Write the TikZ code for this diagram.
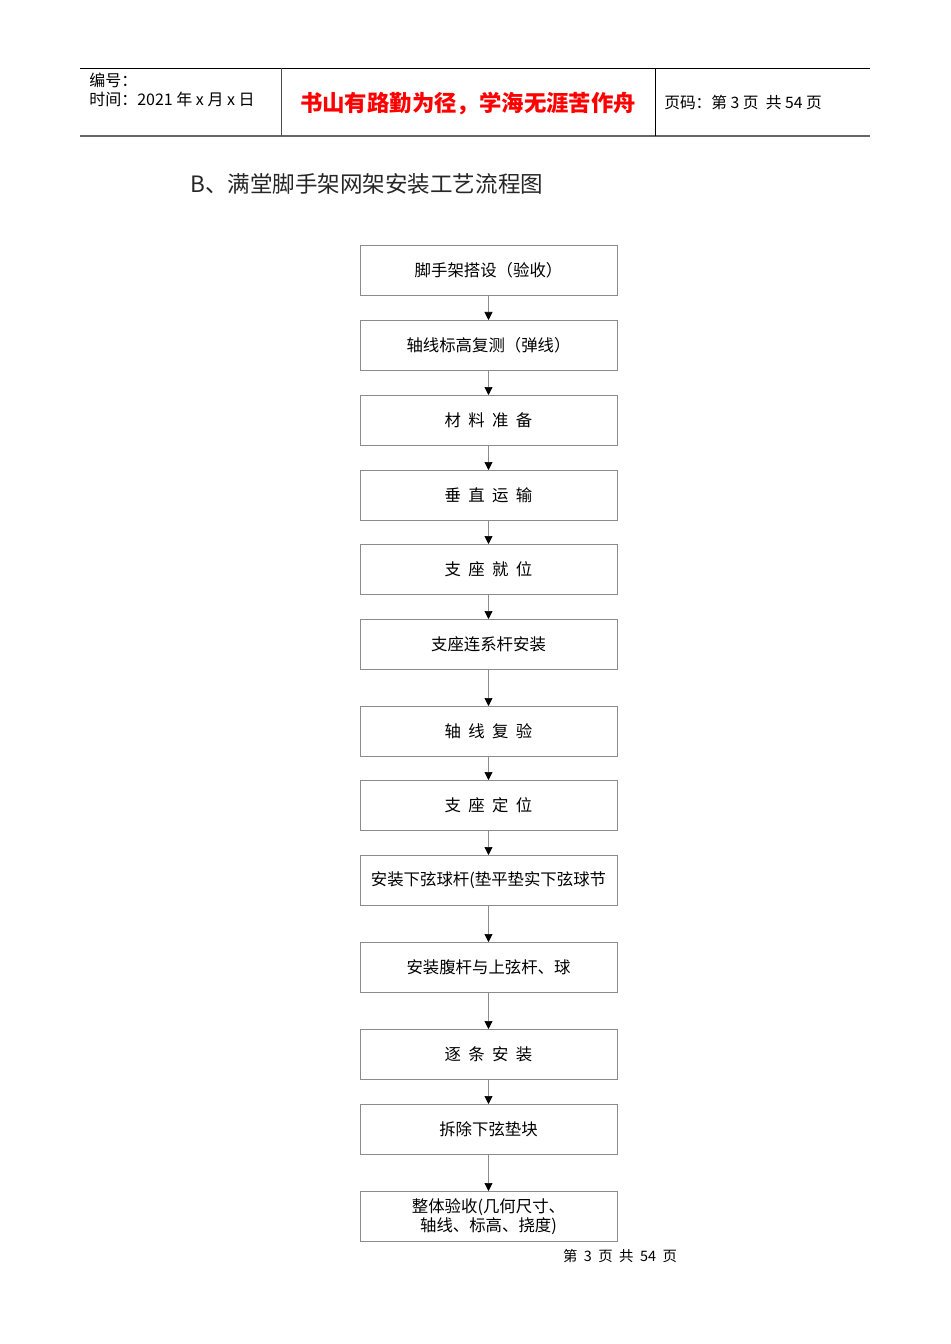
\documentclass[tikz,border=0pt]{standalone}
\usepackage{fontspec}
\setmainfont{Liberation Sans}
\newfontfamily\cjk{Noto Sans CJK SC}
\usetikzlibrary{arrows.meta}
\begin{document}
\begin{tikzpicture}[x=0.75pt,y=-0.75pt,
  stepbox/.style={draw=black!45,line width=0.5pt,minimum width=257*0.75pt,minimum height=50*0.75pt,inner sep=0pt,font=\cjk\fontsize{12.3}{14}\selectfont,align=center,anchor=north},
  flow/.style={draw=black!45,line width=0.5pt,-{Triangle[length=6pt,width=6pt,black]}},
  hdr/.style={inner sep=0pt,anchor=west,font=\cjk\fontsize{12}{14}\selectfont}]
\useasboundingbox (0,0) rectangle (950,1344);
\fill[white] (0,0) rectangle (950,1344);
% header
\draw[line width=0.7pt] (80,68) -- (870,68);
\draw[black!60,line width=1.2pt] (80,136) -- (870,136);
\draw[black!70,line width=0.6pt] (281,68) -- (281,136);
\draw[line width=0.6pt] (655,68) -- (655,136);
\node[hdr] (bh) at (89,80) {编号：};
\node[hdr] (sj) at (89,99) {时间：2021 年 x 月 x 日};
\node[inner sep=0pt,text=red,font=\cjk\bfseries\fontsize{16.8}{19}\selectfont] (motto) at (468,104) {书山有路勤为径，学海无涯苦作舟};
\node[hdr,font=\cjk\fontsize{11.8}{14}\selectfont] (ym) at (664,103) {页码：第 3 页 \ 共 54 页};
% title
\node[inner sep=0pt,anchor=west,font=\cjk\fontsize{16.9}{19}\selectfont,text=black!85] (title) at (190,184) {B、满堂脚手架网架安装工艺流程图};
% boxes
\node[stepbox] (b1) at (488.5,245) {脚手架搭设（验收）};
\node[stepbox] (b2) at (488.5,320) {轴线标高复测（弹线）};
\node[stepbox] (b3) at (488.5,395) {材\ \ 料\ \ 准\ \ 备};
\node[stepbox] (b4) at (488.5,470) {垂\ \ 直\ \ 运\ \ 输};
\node[stepbox] (b5) at (488.5,544) {支\ \ 座\ \ 就\ \ 位};
\node[stepbox] (b6) at (488.5,619) {支座连系杆安装};
\node[stepbox] (b7) at (488.5,706) {轴\ \ 线\ \ 复\ \ 验};
\node[stepbox] (b8) at (488.5,780) {支\ \ 座\ \ 定\ \ 位};
\node[stepbox] (b9) at (488.5,855) {安装下弦球杆(垫平垫实下弦球节};
\node[stepbox] (b10) at (488.5,942) {安装腹杆与上弦杆、球};
\node[stepbox] (b11) at (488.5,1029) {逐\ \ 条\ \ 安\ \ 装};
\node[stepbox] (b12) at (488.5,1104) {拆除下弦垫块};
\node[stepbox,font=\cjk\fontsize{12.3}{14}\selectfont] (b13) at (488.5,1191) {整体验收(几何尺寸、\\轴线、标高、挠度)};
\foreach \a/\b in {b1/b2,b2/b3,b3/b4,b4/b5,b5/b6,b6/b7,b7/b8,b8/b9,b9/b10,b10/b11,b11/b12,b12/b13}
  \draw[flow] (\a.south) -- (\b.north);
% footer
\node[inner sep=0pt,font=\cjk\fontsize{10.8}{12}\selectfont] (foot) at (620,1256) {第 \ 3 \ 页 \ 共 \ 54 \ 页};
\end{tikzpicture}
\end{document}
